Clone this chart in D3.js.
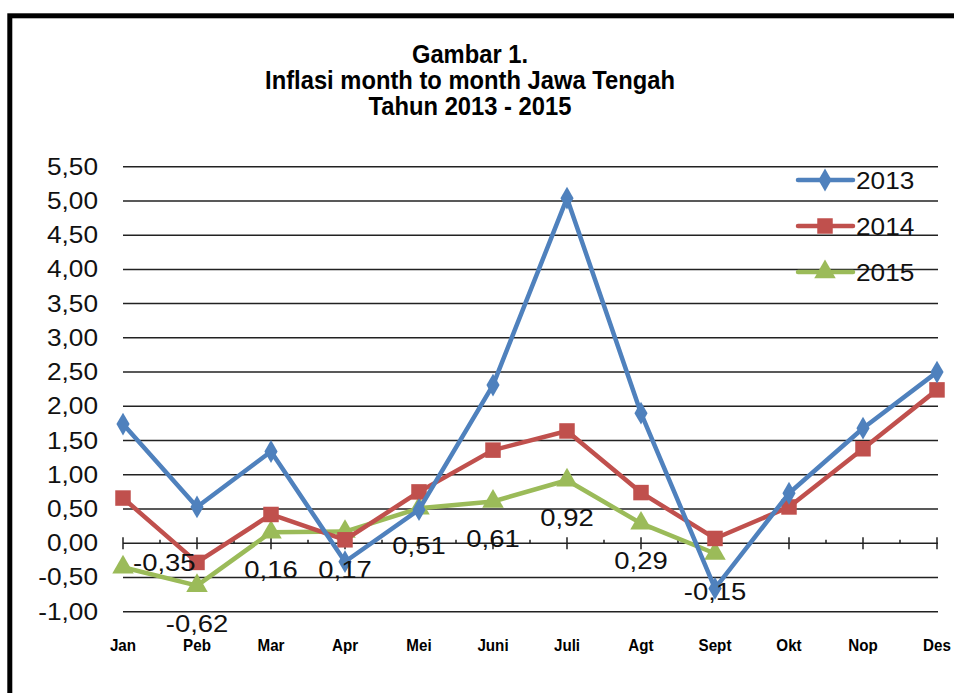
<!DOCTYPE html>
<html>
<head>
<meta charset="utf-8">
<script src="https://cdn.jsdelivr.net/npm/d3@7"></script>
<style>
  body { margin: 0; background: #fff; }
  svg { display: block; font-family: "Liberation Sans", Arial, sans-serif; }
</style>
</head>
<body>
<svg id="chart" width="954" height="693"></svg>
<script>
// data
var months = ["Jan", "Peb", "Mar", "Apr", "Mei", "Juni", "Juli", "Agt", "Sept", "Okt", "Nop", "Des"];
var v2013 = [1.74, 0.53, 1.34, -0.27, 0.49, 2.31, 5.04, 1.90, -0.66, 0.73, 1.68, 2.50];
var v2014 = [0.66, -0.28, 0.42, 0.05, 0.75, 1.36, 1.64, 0.74, 0.07, 0.53, 1.38, 2.24];
var v2015 = [-0.35, -0.62, 0.16, 0.17, 0.51, 0.61, 0.92, 0.29, -0.15];
var yTicks = [-1, -0.5, 0, 0.5, 1, 1.5, 2, 2.5, 3, 3.5, 4, 4.5, 5, 5.5];
var titleLines = ["Gambar 1.", "Inflasi month to month Jawa Tengah", "Tahun 2013 - 2015"];
var seriesNames = ["2013", "2014", "2015"];

// 1,50 style with a plain hyphen for negatives
var fmt = function(v) { return d3.format(".2f")(v).replace("\u2212", "-").replace(".", ","); };

var svg = d3.select("#chart");

// outer frame
svg.append("rect")
  .attr("x", 9.8).attr("y", 15.8)
  .attr("width", 1000).attr("height", 1000)
  .attr("fill", "none").attr("stroke", "#000").attr("stroke-width", 5);

var x = d3.scalePoint().domain(months).range([123, 937]);
var y = d3.scaleLinear().domain([-1, 5.5]).range([611.7, 166.7]);

// title
svg.append("g").selectAll("text")
  .data(titleLines)
  .enter().append("text")
    .attr("transform", function(d, i) { return "translate(470," + (63 + i * 26) + ") scale(0.95,1)"; })
    .attr("text-anchor", "middle")
    .style("font-weight", "bold")
    .style("font-size", "25px")
    .text(function(d) { return d; });

// gridlines + y labels
var grid = svg.append("g");
grid.selectAll("line")
  .data(yTicks.filter(function(d) { return d !== 0; }))
  .enter().append("line")
    .attr("x1", 123).attr("x2", 938)
    .attr("y1", function(d) { return y(d); })
    .attr("y2", function(d) { return y(d); })
    .attr("stroke", "#222").attr("stroke-width", 1.5);

grid.selectAll("text")
  .data(yTicks)
  .enter().append("text")
    .attr("transform", function(d) { return "translate(98," + (y(d) + 8) + ") scale(1.14,1)"; })
    .attr("text-anchor", "end")
    .style("font-size", "23px")
    .attr("fill", "#111")
    .text(fmt);

// category axis on zero
var xAxis = svg.append("g");
xAxis.append("line")
  .attr("x1", 123).attr("x2", 938)
  .attr("y1", y(0)).attr("y2", y(0))
  .attr("stroke", "#222").attr("stroke-width", 1.5);
xAxis.selectAll(".major")
  .data(months)
  .enter().append("line")
    .attr("class", "major")
    .attr("x1", function(d) { return x(d); }).attr("x2", function(d) { return x(d); })
    .attr("y1", y(0) - 6).attr("y2", y(0) + 6)
    .attr("stroke", "#222").attr("stroke-width", 1.5);
xAxis.selectAll(".minor")
  .data(months.slice(1))
  .enter().append("line")
    .attr("class", "minor")
    .attr("x1", function(d) { return x(d) - x.step() / 2; })
    .attr("x2", function(d) { return x(d) - x.step() / 2; })
    .attr("y1", y(0) - 3.5).attr("y2", y(0))
    .attr("stroke", "#222").attr("stroke-width", 1.5);

svg.append("g").selectAll("text")
  .data(months)
  .enter().append("text")
    .attr("transform", function(d) { return "translate(" + x(d) + ",651) scale(0.92,1)"; })
    .attr("text-anchor", "middle")
    .style("font-weight", "bold")
    .style("font-size", "16.5px")
    .text(function(d) { return d; });

// series
var colors = ["#4F81BD", "#C0504D", "#9BBB59"];
var symbols = [d3.symbolDiamond, d3.symbolSquare, d3.symbolTriangle];
var sizes = [150, 240, 200];
var allSeries = [v2013, v2014, v2015];

var line = d3.line()
  .x(function(d, i) { return x(months[i]); })
  .y(function(d) { return y(d); });

// 2015 drawn first, 2013 on top
[2, 1, 0].forEach(function(s) {
  var g = svg.append("g");
  g.append("path")
    .datum(allSeries[s])
    .attr("d", line)
    .attr("fill", "none")
    .attr("stroke", colors[s])
    .attr("stroke-width", 4.5)
    .attr("stroke-linejoin", "round");
  g.selectAll("path.mk")
    .data(allSeries[s])
    .enter().append("path")
      .attr("class", "mk")
      .attr("transform", function(d, i) { return "translate(" + x(months[i]) + "," + y(d) + ")"; })
      .attr("d", d3.symbol().type(symbols[s]).size(sizes[s]))
      .attr("fill", colors[s]);
});

// data labels for 2015
svg.append("g").selectAll("text")
  .data(v2015)
  .enter().append("text")
    .attr("transform", function(d, i) {
      if (i === 0) return "translate(" + (x(months[i]) + 10) + "," + (y(d) + 4) + ") scale(1.12,1)";
      return "translate(" + x(months[i]) + "," + (y(d) + 46) + ") scale(1.12,1)";
    })
    .attr("text-anchor", function(d, i) { return i === 0 ? "start" : "middle"; })
    .style("font-size", "24.5px")
    .attr("fill", "#111")
    .text(fmt);

// legend
var legend = svg.append("g");
seriesNames.forEach(function(name, s) {
  var ly = 180 + s * 46;
  legend.append("line")
    .attr("x1", 798).attr("x2", 853)
    .attr("y1", ly).attr("y2", ly)
    .attr("stroke", colors[s]).attr("stroke-width", 4.5)
    .attr("stroke-linecap", "round");
  legend.append("path")
    .attr("transform", "translate(825," + ly + ")")
    .attr("d", d3.symbol().type(symbols[s]).size(sizes[s]))
    .attr("fill", colors[s]);
  legend.append("text")
    .attr("transform", "translate(856," + (ly + 8.5) + ") scale(1.14,1)")
    .style("font-size", "23px")
    .attr("fill", "#111")
    .text(name);
});
</script>
</body>
</html>
